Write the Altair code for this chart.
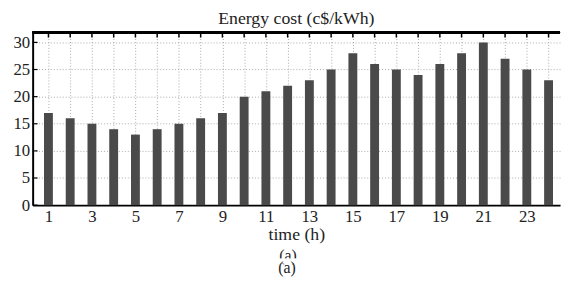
import altair as alt
import pandas as pd

hours = list(range(1, 25))
cost = [17, 16, 15, 14, 13, 14, 15, 16, 17, 20, 21, 22, 23, 25, 28, 26, 25, 24, 26, 28, 30, 27, 25, 23]
y_ticks = [0, 5, 10, 15, 20, 25, 30]

df = pd.DataFrame({"hour": hours, "cost": cost})
dfy = pd.DataFrame({"v": y_ticks})

FONT = "Liberation Serif"
W, H = 535, 175

xs = alt.Scale(domain=[0.5, 24.3], nice=False, zero=False)
ys = alt.Scale(domain=[0, 31.8], nice=False)

xaxis = alt.Axis(values=hours, title="time (h)",
                 labelExpr="datum.value % 2 == 1 ? datum.label : ''",
                 labelOverlap=False,
                 grid=True, gridDash=[1, 2], gridColor="#aaaaaa",
                 domainColor="black", domainWidth=2, tickSize=0,
                 labelPadding=4, titlePadding=1)
yaxis = alt.Axis(values=y_ticks, title=None, labelOverlap=False,
                 grid=True, gridDash=[1, 2], gridColor="#aaaaaa",
                 domainColor="black", domainWidth=2, tickSize=0,
                 labelPadding=3)

bars = alt.Chart(df).mark_bar(color="#4a4a4a", width=9).encode(
    x=alt.X("hour:Q", scale=xs, axis=xaxis),
    y=alt.Y("cost:Q", scale=ys, axis=yaxis),
)

top_ticks = alt.Chart(df).mark_rule(color="black", strokeWidth=1.5).encode(
    x=alt.X("hour:Q", scale=xs, axis=xaxis),
    y=alt.value(0), y2=alt.value(5),
)

left_ticks = alt.Chart(dfy).mark_rule(color="black", strokeWidth=1.2).encode(
    y=alt.Y("v:Q", scale=ys, axis=yaxis),
    x=alt.value(0), x2=alt.value(5),
)

top_line = alt.Chart(df).mark_rule(color="black", strokeWidth=2).encode(
    x=alt.value(0), x2=alt.value(W), y=alt.value(0)
)

lab1 = alt.Chart(pd.DataFrame({"t": ["(a)"]})).mark_text(
    font=FONT, fontSize=16, color="#222", baseline="middle"
).encode(text="t:N", x=alt.value(259), y=alt.value(227))

mask = alt.Chart(pd.DataFrame({"t": ["m"]})).mark_rect(color="white").encode(
    x=alt.value(245), x2=alt.value(275), y=alt.value(229), y2=alt.value(234)
)

lab2 = alt.Chart(pd.DataFrame({"t": ["(a)"]})).mark_text(
    font=FONT, fontSize=16, color="#222", baseline="middle"
).encode(text="t:N", x=alt.value(258), y=alt.value(239))

chart = alt.layer(bars, top_ticks, left_ticks, top_line, lab1, mask, lab2).properties(
    width=W, height=H,
    title=alt.TitleParams("Energy cost (c$/kWh)", font=FONT, fontSize=18,
                          fontWeight="normal", color="#222", offset=4, anchor="middle"),
    autosize=alt.AutoSizeParams(type="none"),
    padding={"left": 25, "top": 23, "right": 1, "bottom": 76},
).configure(
    font=FONT,
    view=alt.ViewConfig(stroke=None),
    axis=alt.AxisConfig(
        labelFont=FONT, labelFontSize=17, labelColor="#222",
        titleFont=FONT, titleFontSize=18, titleFontWeight="normal", titleColor="#222",
    ),
)

chart.save("out.html", embed_options={"renderer": "svg", "actions": False})
